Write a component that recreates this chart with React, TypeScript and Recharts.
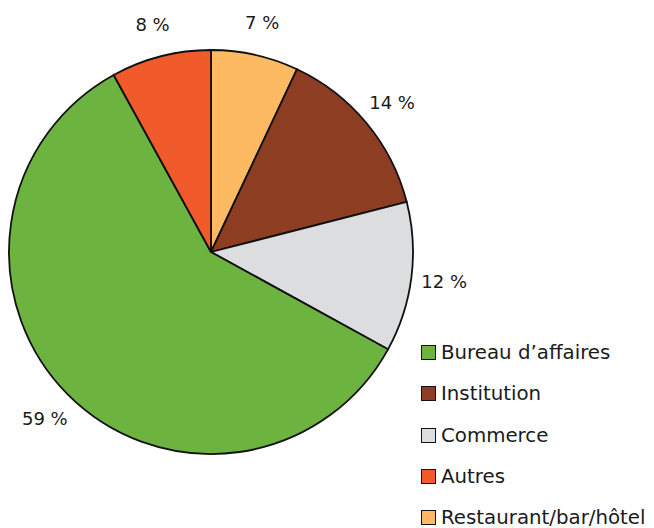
import { Legend, Pie, PieChart, Cell } from "recharts";

const sectors = ["Restaurant/bar/hôtel", "Institution", "Commerce", "Bureau d’affaires", "Autres"];
const shares = [7, 14, 12, 59, 8];
const colors = ["#FDBA63", "#8C3D22", "#DCDDDF", "#6DB33F", "#F15A2B"];
const legendOrder = ["Bureau d’affaires", "Institution", "Commerce", "Autres", "Restaurant/bar/hôtel"];

const data = sectors.map((name, i) => ({ name, value: shares[i], fill: colors[i] }));

const FONT = "'DejaVu Sans', sans-serif";
const RAD = Math.PI / 180;

function renderLabel(props: any) {
  const { cx, cy, midAngle, outerRadius, value } = props;
  const r = outerRadius + 33;
  const x = cx + r * Math.cos(-midAngle * RAD);
  const y = cy + r * Math.sin(-midAngle * RAD);
  return (
    <text x={x} y={y} textAnchor="middle" dominantBaseline="central" fontSize={18} fontFamily={FONT} fill="#1a1a1a">
      {value} %
    </text>
  );
}

function renderLegend() {
  return (
    <div style={{ fontFamily: FONT, fontSize: 19.8, color: "#1a1a1a" }}>
      {legendOrder.map((name) => {
        const idx = sectors.indexOf(name);
        return (
          <div key={name} style={{ display: "flex", alignItems: "center", height: 41.3 }}>
            <span
              style={{
                display: "inline-block",
                width: 13,
                height: 13,
                background: colors[idx],
                border: "1.5px solid #111",
                marginRight: 5
              }}
            />
            <span>{name}</span>
          </div>
        );
      })}
    </div>
  );
}

export default function App() {
  return (
    <div style={{ position: "absolute", left: 0, top: 0, width: 654, height: 528, background: "#fff" }}>
      <PieChart width={654} height={528} margin={{ top: 0, right: 0, bottom: 0, left: 0 }}>
        <Pie
          data={data}
          dataKey="value"
          nameKey="name"
          cx={211}
          cy={252}
          outerRadius={202}
          startAngle={90}
          endAngle={-270}
          stroke="#111"
          strokeWidth={1.8}
          label={renderLabel}
          labelLine={false}
          isAnimationActive={false}
        >
          {data.map((d) => (
            <Cell key={d.name} fill={d.fill} />
          ))}
        </Pie>
        <Legend
          content={renderLegend}
          wrapperStyle={{ position: "absolute", left: 421, top: 332, width: 233 }}
        />
      </PieChart>
    </div>
  );
}
